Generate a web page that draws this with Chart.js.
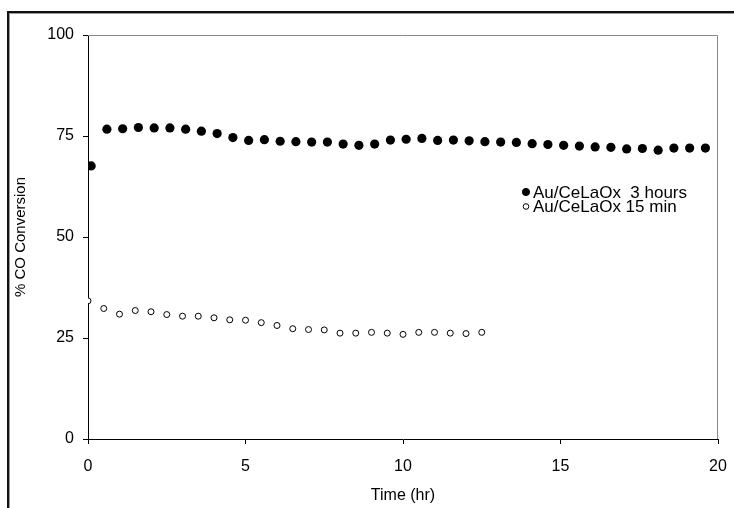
<!DOCTYPE html>
<html>
<head>
<meta charset="utf-8">
<script src="https://cdn.jsdelivr.net/npm/chart.js@4"></script>
<style>
  body { margin: 0; background: #fff; }
  .wrap { position: relative; width: 734px; height: 508px; overflow: hidden; }
  .frame { position: absolute; left: 7px; top: 11px; width: 800px; height: 600px; border: 2px solid #111; box-shadow: inset 1px 1px 0 #999; }
  canvas { position: absolute; left: 0; top: 0; }
</style>
</head>
<body>
<div class="wrap">
  <div class="frame"></div>
  <canvas id="chart-co" width="734" height="508"></canvas>
</div>
<script>
// sample times (hr) and % CO conversion
const time3h = [0.1, 0.6, 1.1, 1.6, 2.1, 2.6, 3.1, 3.6, 4.1, 4.6,
  5.1, 5.6, 6.1, 6.6, 7.1, 7.6, 8.1, 8.6, 9.1, 9.6,
  10.1, 10.6, 11.1, 11.6, 12.1, 12.6, 13.1, 13.6, 14.1, 14.6,
  15.1, 15.6, 16.1, 16.6, 17.1, 17.6, 18.1, 18.6, 19.1, 19.6];
const conv3h = [67.6, 76.7, 76.8, 77.1, 77.0, 77.0, 76.7, 76.2, 75.6, 74.6,
  73.9, 74.1, 73.7, 73.6, 73.5, 73.5, 73.0, 72.7, 73.0, 74.0,
  74.2, 74.4, 73.9, 74.0, 73.8, 73.6, 73.5, 73.4, 73.1, 72.9,
  72.7, 72.5, 72.3, 72.2, 71.8, 71.9, 71.5, 72.0, 72.0, 72.0];

const time15m = [0, 0.5, 1, 1.5, 2, 2.5, 3, 3.5, 4, 4.5,
  5, 5.5, 6, 6.5, 7, 7.5, 8, 8.5, 9, 9.5,
  10, 10.5, 11, 11.5, 12, 12.5];
const conv15m = [34.2, 32.3, 30.9, 31.8, 31.5, 30.8, 30.4, 30.4, 30.0, 29.5,
  29.4, 28.8, 28.1, 27.3, 27.1, 27.0, 26.2, 26.2, 26.4, 26.2,
  25.9, 26.4, 26.4, 26.2, 26.1, 26.4];

const seriesLabels = ['Au/CeLaOx  3 hours', 'Au/CeLaOx 15 min'];
const xTicks = [0, 5, 10, 15, 20];
const yTicks = [0, 25, 50, 75, 100];

const fontFamily = 'Arial, "Liberation Sans", sans-serif';

// gray top/right edges of the plot box
const plotBox = {
  id: 'plotBox',
  afterDraw(chart) {
    const { ctx, chartArea: a } = chart;
    ctx.save();
    ctx.strokeStyle = '#888';
    ctx.lineWidth = 1;
    ctx.beginPath();
    ctx.moveTo(a.left, a.top + 0.5);
    ctx.lineTo(a.right - 0.5, a.top + 0.5);
    ctx.lineTo(a.right - 0.5, a.bottom);
    ctx.stroke();
    ctx.restore();
  }
};

// legend sitting inside the plot
const innerLegend = {
  id: 'innerLegend',
  afterDraw(chart) {
    const ctx = chart.ctx;
    ctx.save();
    ctx.font = '17px ' + fontFamily;
    ctx.textBaseline = 'middle';
    chart.data.datasets.forEach((ds, i) => {
      const y = 192 + i * 14.5;
      ctx.beginPath();
      ctx.arc(526, y, i === 0 ? 3.6 : 2.8, 0, Math.PI * 2);
      ctx.fillStyle = ds.pointBackgroundColor;
      ctx.fill();
      ctx.strokeStyle = '#000';
      ctx.lineWidth = 1;
      ctx.stroke();
      ctx.fillStyle = '#000';
      ctx.fillText(ds.label, 533, y + 1);
    });
    ctx.restore();
  }
};

let chartCo = document.getElementById('chart-co').getContext('2d');

let coChart = new Chart(chartCo, {
  type: 'scatter',
  data: {
    datasets: [{
      label: seriesLabels[0],
      data: time3h.map((t, i) => ({ x: t, y: conv3h[i] })),
      pointRadius: 4.6,
      pointBackgroundColor: '#000',
      pointBorderColor: '#000',
      pointBorderWidth: 0
    }, {
      label: seriesLabels[1],
      data: time15m.map((t, i) => ({ x: t, y: conv15m[i] })),
      pointRadius: 3,
      pointBackgroundColor: '#fff',
      pointBorderColor: '#000',
      pointBorderWidth: 1
    }]
  },
  options: {
    responsive: false,
    animation: false,
    layout: { padding: { left: 0, top: 35, right: 16, bottom: 0 } },
    plugins: {
      legend: { display: false },
      tooltip: { enabled: false }
    },
    scales: {
      x: {
        type: 'linear',
        min: 0,
        max: 20,
        afterBuildTicks: (scale) => { scale.ticks = xTicks.map(v => ({ value: v })); },
        afterFit: (scale) => {
          scale.height = 69;
          scale.paddingLeft = 0;
          scale.paddingRight = 0;
        },
        grid: { drawOnChartArea: false, tickLength: 5, color: '#000' },
        border: { display: true, color: '#000', width: 1 },
        ticks: { color: '#000', padding: 13, maxRotation: 0, font: { family: fontFamily, size: 16 } },
        title: {
          display: true,
          text: 'Time (hr)',
          color: '#000',
          padding: { top: 0, bottom: 3 },
          font: { family: fontFamily, size: 16 }
        }
      },
      y: {
        min: 0,
        max: 100,
        afterBuildTicks: (scale) => { scale.ticks = yTicks.map(v => ({ value: v })); },
        afterFit: (scale) => { scale.width = 88; },
        grid: { drawOnChartArea: false, tickLength: 5, color: '#000' },
        border: { display: true, color: '#000', width: 1 },
        ticks: { color: '#000', padding: 9, font: { family: fontFamily, size: 16 } },
        title: {
          display: true,
          text: '% CO Conversion',
          color: '#000',
          padding: { top: 12, bottom: 0 },
          font: { family: fontFamily, size: 15 }
        }
      }
    }
  },
  plugins: [plotBox, innerLegend]
});
</script>
</body>
</html>
